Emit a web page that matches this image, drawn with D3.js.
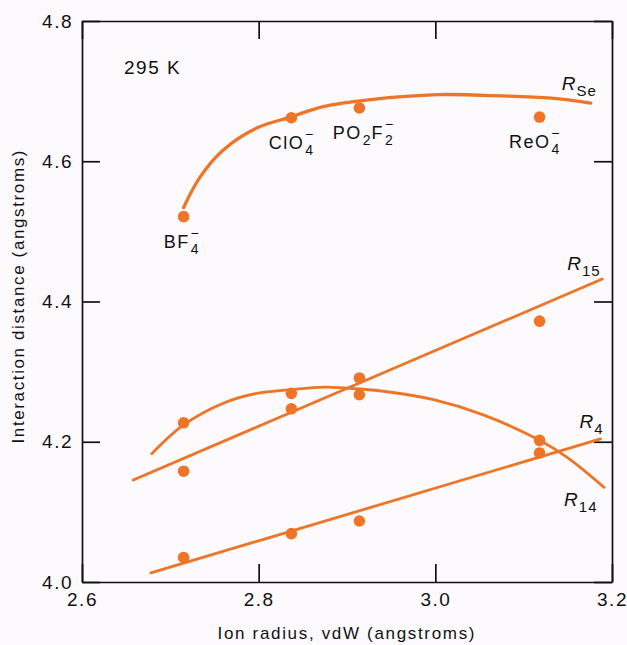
<!DOCTYPE html>
<html>
<head>
<meta charset="utf-8">
<script src="https://cdn.jsdelivr.net/npm/d3@7"></script>
<style>
    body { margin: 0; background: #fcfafc; }
    svg { display: block; }
    text { font-family: "Liberation Sans", Arial, sans-serif; fill: #111; }
    .tick text { font-size: 19px; letter-spacing: 1.5px; }
    .tick line, .domain { stroke: #111; stroke-width: 1.7; }
</style>
</head>
<body>
<div id="chart"></div>
<script>

// anions and measured points
var ions = ["BF4", "ClO4", "PO2F2", "ReO4"];
var ionRadius = [2.715, 2.837, 2.914, 3.118];
var rSe = [4.521, 4.662, 4.676, 4.663];
var r15 = [4.158, 4.247, 4.291, 4.372];
var r14 = [4.227, 4.269, 4.267, 4.202];
var r4 = [4.035, 4.069, 4.087, 4.184];

// drawn fit curves
var rSeFitX = [2.715, 2.734, 2.760, 2.799, 2.836, 2.873, 2.927, 3.003, 3.055, 3.131, 3.176];
var rSeFitY = [4.534, 4.578, 4.616, 4.648, 4.663, 4.678, 4.688, 4.695, 4.694, 4.690, 4.683];
var r14FitX = [2.679, 2.715, 2.760, 2.798, 2.834, 2.874, 2.904, 2.941, 2.998, 3.055, 3.118, 3.150, 3.191];
var r14FitY = [4.183, 4.224, 4.255, 4.269, 4.274, 4.278, 4.276, 4.272, 4.260, 4.238, 4.202, 4.177, 4.135];
var r15FitX = [2.658, 3.189];
var r15FitY = [4.1455, 4.432];
var r4FitX = [2.678, 3.187];
var r4FitY = [4.013, 4.204];

var xTicks = [2.6, 2.8, 3.0, 3.2];
var yTicks = [4.0, 4.2, 4.4, 4.6, 4.8];

// label pieces: main text, subscript, superscript
var ionLabels = [
    [{t: "BF"}, {sub: "4", sup: "−"}],
    [{t: "ClO"}, {sub: "4", sup: "−"}],
    [{t: "PO"}, {sub: "2"}, {t: "F"}, {sub: "2", sup: "−"}],
    [{t: "ReO"}, {sub: "4", sup: "−"}]
];
var seriesNames = ["Se", "15", "4", "14"];

var orange = "#ee7427";
var width = 627, height = 645;
var margin = {top: 21, right: 15, bottom: 63, left: 82};

var svg = d3.select("#chart")
    .append("svg")
    .attr("width", width)
    .attr("height", height);

var xScale = d3.scaleLinear()
    .domain([2.6, 3.2])
    .range([margin.left, width - margin.right]);

var yScale = d3.scaleLinear()
    .domain([4.0, 4.8])
    .range([height - margin.bottom, margin.top]);

var fmt = d3.format(".1f");

svg.append("g")
    .attr("transform", "translate(0," + yScale(4.0) + ")")
    .call(d3.axisBottom(xScale).tickValues(xTicks).tickFormat(fmt)
        .tickSize(-18).tickSizeOuter(0).tickPadding(11));

svg.append("g")
    .attr("transform", "translate(0," + yScale(4.8) + ")")
    .call(d3.axisTop(xScale).tickValues(xTicks).tickFormat("")
        .tickSize(-18).tickSizeOuter(0));

svg.append("g")
    .attr("transform", "translate(" + xScale(2.6) + ",0)")
    .call(d3.axisLeft(yScale).tickValues(yTicks).tickFormat(fmt)
        .tickSize(-18).tickSizeOuter(0).tickPadding(9));

svg.append("g")
    .attr("transform", "translate(" + xScale(3.2) + ",0)")
    .call(d3.axisRight(yScale).tickValues(yTicks).tickFormat("")
        .tickSize(-18).tickSizeOuter(0));

svg.selectAll(".tick text").attr("fill", "#111");

// axis titles
svg.append("text")
    .attr("x", 346)
    .attr("y", 639)
    .attr("text-anchor", "middle")
    .attr("font-size", 17)
    .attr("textLength", 257)
    .attr("lengthAdjust", "spacing")
    .text("Ion radius, vdW (angstroms)");

svg.append("text")
    .attr("transform", "translate(24,297) rotate(-90)")
    .attr("text-anchor", "middle")
    .attr("font-size", 17)
    .attr("textLength", 293)
    .attr("lengthAdjust", "spacing")
    .text("Interaction distance (angstroms)");

svg.append("text")
    .attr("x", 124)
    .attr("y", 74)
    .attr("font-size", 19)
    .attr("letter-spacing", "1.5px")
    .text("295 K");

// fit curves
var fits = [
    {x: rSeFitX, y: rSeFitY, w: 3.3},
    {x: r15FitX, y: r15FitY, w: 2.8},
    {x: r4FitX, y: r4FitY, w: 2.8},
    {x: r14FitX, y: r14FitY, w: 2.8}
];

var line = d3.line()
    .x(function(d) { return xScale(d[0]); })
    .y(function(d) { return yScale(d[1]); })
    .curve(d3.curveCatmullRom.alpha(0.5));

fits.forEach(function(f) {
    var pts = f.x.map(function(v, i) { return [v, f.y[i]]; });
    svg.append("path")
        .datum(pts)
        .attr("d", line)
        .attr("fill", "none")
        .attr("stroke", orange)
        .attr("stroke-width", f.w)
        .attr("stroke-linecap", "round");
});

// measured points
[rSe, r15, r14, r4].forEach(function(series) {
    svg.append("g")
        .selectAll("circle")
        .data(series)
        .enter().append("circle")
        .attr("cx", function(d, i) { return xScale(ionRadius[i]); })
        .attr("cy", function(d) { return yScale(d); })
        .attr("r", 5.8)
        .attr("fill", orange)
        .append("title")
        .text(function(d, i) { return ions[i] + ": " + d; });
});

// chemical formula labels under the R_Se points
function formula(g, parts) {
    var cx = 0;
    parts.forEach(function(p) {
        if (p.t) {
            var t = g.append("text")
                .attr("x", cx).attr("y", 0)
                .attr("font-size", 18)
                .attr("letter-spacing", "1.5px")
                .text(p.t);
            cx += t.node().getComputedTextLength() + 1;
        } else {
            var s = g.append("text")
                .attr("x", cx).attr("y", 6)
                .attr("font-size", 14)
                .text(p.sub);
            var w = s.node().getComputedTextLength();
            if (p.sup) {
                g.append("text")
                    .attr("x", cx + w / 2).attr("y", -10)
                    .attr("text-anchor", "middle")
                    .attr("font-size", 14)
                    .text(p.sup);
            }
            cx += w + 1;
        }
    });
    return cx;
}

ionLabels.forEach(function(parts, i) {
    var g = svg.append("g");
    var w = formula(g, parts);
    var px = xScale(ionRadius[i]), py = yScale(rSe[i]);
    var dx = i == 0 ? -2 : (i == 2 ? 4 : (i == 3 ? -5 : 0));
    g.attr("transform", "translate(" + (px - w / 2 + dx) + "," + (py + 31) + ")");
});

// series labels near the curve ends
var seriesEnds = [
    [rSeFitX, rSeFitY, -29, -13],
    [r15FitX, r15FitY, -35, -9],
    [r4FitX, r4FitY, -21, -11],
    [r14FitX, r14FitY, -40, 19]
];

seriesEnds.forEach(function(s, i) {
    var n = s[0].length - 1;
    var px = xScale(s[0][n]) + s[2], py = yScale(s[1][n]) + s[3];
    var g = svg.append("g").attr("transform", "translate(" + px + "," + py + ")");
    var r = g.append("text")
        .attr("font-size", 19)
        .attr("font-style", "italic")
        .text("R");
    var w = r.node().getComputedTextLength();
    g.append("text")
        .attr("x", w + 1)
        .attr("y", 6)
        .attr("font-size", 15)
        .attr("letter-spacing", "1px")
        .text(seriesNames[i]);
});

</script>
</body>
</html>
